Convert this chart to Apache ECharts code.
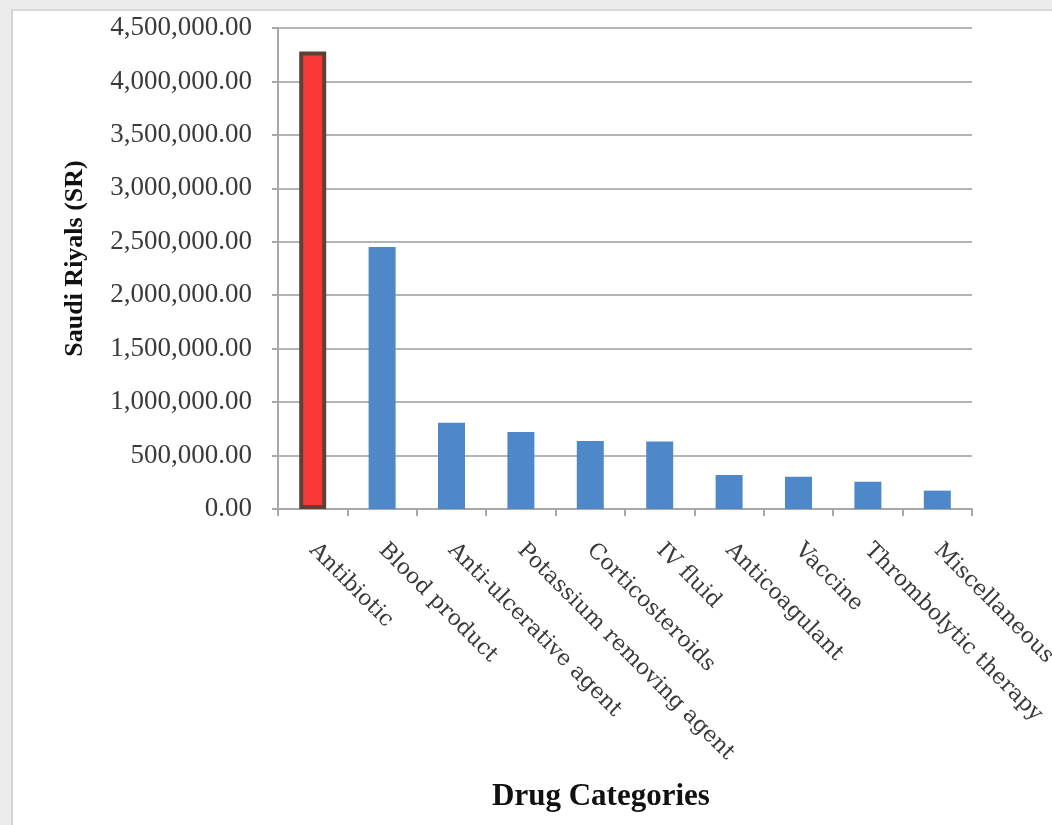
<!DOCTYPE html>
<html>
<head>
<meta charset="utf-8">
<script src="https://cdn.jsdelivr.net/npm/echarts@6/dist/echarts.min.js"></script>
<style>
  html, body { margin: 0; padding: 0; width: 1052px; height: 825px; overflow: hidden; background: #ebebeb; }
  #frame { position: absolute; left: 11px; top: 9px; right: 0; bottom: 0; background: #ffffff;
           border-left: 2px solid #d2d2d2; border-top: 2px solid #d8d8d8; }
  #chart { position: absolute; left: 0; top: 0; width: 1052px; height: 825px; }
</style>
</head>
<body>
<div id="frame"></div>
<div id="chart"></div>
<script>
// Drug categories and their cost in Saudi Riyals
const categories = [
  'Antibiotic', 'Blood product', 'Anti-ulcerative agent', 'Potassium removing agent',
  'Corticosteroids', 'IV fluid', 'Anticoagulant', 'Vaccine', 'Thrombolytic therapy', 'Miscellaneous'
];
const costs = [4280000, 2450000, 808000, 720000, 636000, 632000, 318000, 302000, 255000, 172000];
const highlighted = 'Antibiotic';

const yMin = 0;
const yMax = 4500000;
const yStep = 500000;

const fmt = v => v.toLocaleString('en-US', { minimumFractionDigits: 2, maximumFractionDigits: 2 });

const barData = categories.map((c, i) => {
  if (c === highlighted) {
    return { value: costs[i], itemStyle: { color: '#fb3838', borderColor: '#5a4236', borderWidth: 4 } };
  }
  return costs[i];
});

const chart = echarts.init(document.getElementById('chart'), null, { renderer: 'canvas' });
chart.setOption({
  backgroundColor: 'transparent',
  animation: false,
  title: {
    text: 'Drug Categories',
    left: 596,
    top: 776,
    textAlign: 'center',
    textStyle: { fontFamily: 'Liberation Serif', fontWeight: 'bold', fontSize: 31, color: '#111' }
  },
  grid: { left: 278, right: 80, top: 28, bottom: 316, containLabel: false, outerBoundsMode: 'none' },
  xAxis: {
    type: 'category',
    data: categories,
    boundaryGap: true,
    axisLine: { show: true, lineStyle: { color: '#a8a8a8', width: 2 } },
    axisTick: { show: true, length: 7, alignWithLabel: false, lineStyle: { color: '#a8a8a8', width: 2 } },
    axisLabel: {
      interval: 0,
      rotate: -45,
      margin: 38,
      fontFamily: 'DejaVu Serif',
      fontSize: 22,
      color: '#3a3a3a'
    }
  },
  yAxis: {
    type: 'value',
    min: yMin,
    max: yMax,
    interval: yStep,
    name: 'Saudi Riyals (SR)',
    nameLocation: 'middle',
    nameGap: 190,
    nameTextStyle: { fontFamily: 'Liberation Serif', fontWeight: 'bold', fontSize: 26, color: '#111', padding: [0, 0, 0, 20] },
    axisLine: { show: true, lineStyle: { color: '#a8a8a8', width: 2 } },
    axisTick: { show: true, inside: false, length: 6, lineStyle: { color: '#a8a8a8', width: 2 } },
    splitLine: { show: true, lineStyle: { color: '#b4b4b4', width: 2 } },
    axisLabel: {
      margin: 26,
      formatter: fmt,
      fontFamily: 'Liberation Serif',
      fontSize: 27,
      color: '#3a3a3a'
    }
  },
  series: [{
    type: 'bar',
    data: barData,
    barWidth: 27,
    itemStyle: { color: '#4f88c9' }
  }]
});
</script>
</body>
</html>
